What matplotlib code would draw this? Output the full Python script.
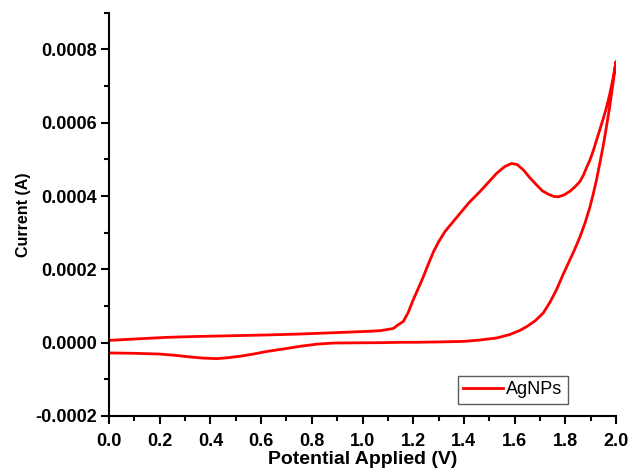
import matplotlib.pyplot as plt
from matplotlib.ticker import MultipleLocator, FormatStrFormatter

plt.rcParams['font.family'] = ['Liberation Sans', 'DejaVu Sans']

# 順方向スキャン (0 V -> 2 V)
fwd_v = [0.0, 0.1, 0.227, 0.35, 0.49, 0.62, 0.753, 0.88, 1.017, 1.069, 1.108,
         1.122, 1.141, 1.161, 1.18, 1.2, 1.22, 1.24, 1.26, 1.28, 1.30, 1.325,
         1.355, 1.385, 1.42, 1.463, 1.50, 1.529, 1.56, 1.588, 1.61, 1.635,
         1.66, 1.687, 1.71, 1.733, 1.755, 1.772, 1.795, 1.818, 1.838, 1.858,
         1.872, 1.884, 1.897, 1.91, 1.923, 1.937, 1.95, 1.963, 1.975, 1.988,
         2.0]
fwd_i = [6.3e-6, 1.0e-5, 1.45e-5, 1.7e-5, 1.9e-5, 2.1e-5, 2.36e-5, 2.7e-5,
         3.08e-5, 3.27e-5, 3.7e-5, 3.9e-5, 4.9e-5, 5.8e-5, 8.2e-5, 1.17e-4,
         1.48e-4, 1.80e-4, 2.15e-4, 2.48e-4, 2.75e-4, 3.03e-4, 3.28e-4,
         3.53e-4, 3.82e-4, 4.12e-4, 4.40e-4, 4.62e-4, 4.80e-4, 4.89e-4,
         4.86e-4, 4.71e-4, 4.50e-4, 4.30e-4, 4.14e-4, 4.05e-4, 3.99e-4,
         3.98e-4, 4.03e-4, 4.13e-4, 4.25e-4, 4.40e-4, 4.58e-4, 4.78e-4,
         4.98e-4, 5.23e-4, 5.52e-4, 5.83e-4, 6.12e-4, 6.43e-4, 6.77e-4,
         7.20e-4, 7.67e-4]

# 逆方向スキャン (2 V -> 0 V)
rev_v = [2.0, 1.988, 1.976, 1.963, 1.95, 1.936, 1.923, 1.91, 1.897, 1.878,
         1.858, 1.838, 1.818, 1.79, 1.765, 1.74, 1.713, 1.68, 1.648, 1.621,
         1.58, 1.529, 1.46, 1.398, 1.3, 1.2, 1.148, 1.069, 0.96, 0.885, 0.82,
         0.753, 0.69, 0.622, 0.57, 0.517, 0.47, 0.425, 0.37, 0.32, 0.26, 0.2,
         0.1, 0.0]
rev_i = [7.67e-4, 7.07e-4, 6.48e-4, 5.92e-4, 5.39e-4, 4.89e-4, 4.44e-4,
         4.05e-4, 3.70e-4, 3.27e-4, 2.89e-4, 2.56e-4, 2.26e-4, 1.84e-4,
         1.44e-4, 1.11e-4, 8.1e-5, 5.9e-5, 4.4e-5, 3.35e-5, 2.2e-5, 1.28e-5,
         7.0e-6, 3.5e-6, 2.0e-6, 1.0e-6, 1.0e-6, 0.0, -5.0e-7, -1.0e-6,
         -4.0e-6, -1.0e-5, -1.7e-5, -2.4e-5, -3.1e-5, -3.7e-5, -4.1e-5,
         -4.35e-5, -4.2e-5, -3.9e-5, -3.45e-5, -3.1e-5, -2.9e-5, -2.8e-5]

volts = fwd_v + rev_v
amps = fwd_i + rev_i

fig = plt.figure(figsize=(6.32, 4.74), dpi=100)
ax = fig.add_axes([0.1725, 0.1224, 0.8022, 0.8506])
ax.plot(volts, amps, color='#ff0000', lw=2.0, label='AgNPs')

ax.set_xlim(0, 2.0)
ax.set_ylim(-0.0002, 0.0009)
ax.xaxis.set_major_locator(MultipleLocator(0.2))
ax.xaxis.set_minor_locator(MultipleLocator(0.1))
ax.yaxis.set_major_locator(MultipleLocator(0.0002))
ax.yaxis.set_minor_locator(MultipleLocator(0.0001))
ax.xaxis.set_major_formatter(FormatStrFormatter('%.1f'))
ax.yaxis.set_major_formatter(FormatStrFormatter('%.4f'))

for s in ['top', 'right']:
    ax.spines[s].set_visible(False)
for s in ['left', 'bottom']:
    ax.spines[s].set_linewidth(1.5)
ax.tick_params(which='major', direction='out', length=6, width=1.5,
               labelsize=13, pad=3)
ax.tick_params(axis='x', which='major', pad=6)
ax.tick_params(which='minor', direction='out', length=3.5, width=1.5)
for lab in ax.get_xticklabels() + ax.get_yticklabels():
    lab.set_fontweight('bold')

ax.set_xlabel('Potential Applied (V)', fontsize=14, fontweight='bold', labelpad=1)
ax.set_ylabel('Current (A)', fontsize=11.5, fontweight='bold', labelpad=3)

leg = ax.legend(loc='lower right', bbox_to_anchor=(0.923, 0.008), fontsize=13,
                frameon=True, fancybox=False, edgecolor='#333333',
                handlelength=2.2, borderpad=0.3, handletextpad=0.2)
leg.get_frame().set_linewidth(1.0)

fig.savefig('out.png', dpi=100)
